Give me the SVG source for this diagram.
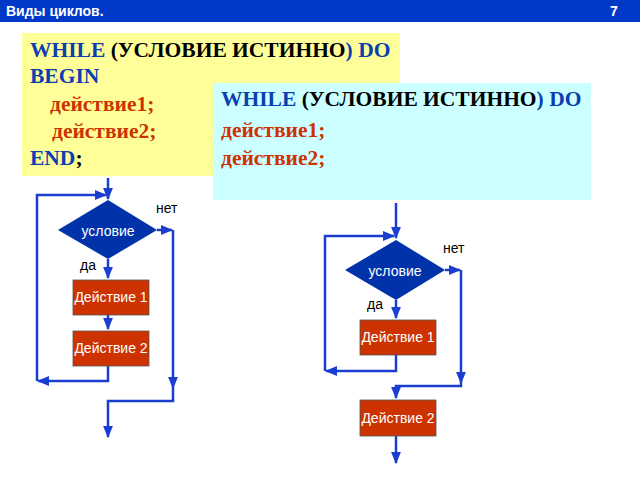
<svg xmlns="http://www.w3.org/2000/svg" width="640" height="480" viewBox="0 0 640 480">
<defs>
<marker id="a" viewBox="0 0 10 10" refX="9" refY="5" markerWidth="5" markerHeight="5" orient="auto"><path d="M0,1 L10,5 L0,9 z" fill="#1a3fd0"/></marker>
<style>
.t{font-family:"Liberation Serif","Times New Roman",serif;font-weight:bold;font-size:21.5px}
.b{fill:#0a3fb0}.k{fill:#000}.r{fill:#cc3300}
.s{font-family:"Liberation Sans",Arial,sans-serif;font-size:14px}
.c{fill:none;stroke:#1a3fd0;stroke-width:2.5}
.d{fill:#0033aa}.x{fill:#cc3300;stroke:#555;stroke-width:0.8}
</style>
</defs>
<rect width="640" height="480" fill="#fff"/>
<rect width="640" height="22" fill="#0038c8"/>
<text x="6" y="16" font-family="Liberation Sans,sans-serif" font-weight="bold" font-size="14" fill="#fff">Виды циклов.</text>
<text x="610" y="16" font-family="Liberation Sans,sans-serif" font-weight="bold" font-size="14" fill="#fff">7</text>
<g id="code1">
<rect x="22" y="33" width="378" height="143" fill="#ffff99"/>
<text class="t" x="30" y="57"><tspan class="b">WHILE </tspan><tspan class="k">(УСЛОВИЕ ИСТИННО</tspan><tspan class="b">) DO</tspan></text>
<text class="t b" x="30" y="83">BEGIN</text>
<text class="t r" x="50" y="111">действие1;</text>
<text class="t r" x="52" y="138">действие2;</text>
<text class="t" x="30" y="165"><tspan class="b">END</tspan><tspan class="k">;</tspan></text>
</g>
<g id="code2">
<rect x="213" y="83" width="378" height="117" fill="#ccffff"/>
<text class="t" x="221" y="106"><tspan class="b">WHILE </tspan><tspan class="k">(УСЛОВИЕ ИСТИННО</tspan><tspan class="b">) DO</tspan></text>
<text class="t r" x="221" y="137">действие1;</text>
<text class="t r" x="221" y="165">действие2;</text>
</g>
<g id="connectors">
<path class="c" d="M108,178 V199" marker-end="url(#a)"/>
<path class="c" d="M108,259 V278" marker-end="url(#a)"/>
<path class="c" d="M108,315 V329" marker-end="url(#a)"/>
<path class="c" d="M108,366 V381 H38" marker-end="url(#a)"/>
<path class="c" d="M37,381 V195 H106" marker-end="url(#a)"/>
<path class="c" d="M157,230 H172" marker-end="url(#a)"/>
<path class="c" d="M173,230 V388" marker-end="url(#a)"/>
<path class="c" d="M173,388 V401 H108 V437" marker-end="url(#a)"/>
<path class="c" d="M396,203 V238" marker-end="url(#a)"/>
<path class="c" d="M396,300 V318" marker-end="url(#a)"/>
<path class="c" d="M396,355 V371 H326" marker-end="url(#a)"/>
<path class="c" d="M325,371 V236 H394" marker-end="url(#a)"/>
<path class="c" d="M445,270 H460" marker-end="url(#a)"/>
<path class="c" d="M461,270 V383" marker-end="url(#a)"/>
<path class="c" d="M461,383 V386 H396 V398" marker-end="url(#a)"/>
<path class="c" d="M396,436 V463" marker-end="url(#a)"/>
</g>
<g id="cond1"><path class="d" d="M58,230 L108,200 L157,230 L108,259 z"/><text class="s" x="108" y="236" text-anchor="middle" fill="#fff">условие</text></g>
<text class="s" x="156" y="213">нет</text>
<text class="s" x="80" y="270">да</text>
<g id="act1a"><rect class="x" x="73" y="280" width="76" height="35"/><text class="s" x="111" y="302" text-anchor="middle" fill="#fff" font-size="13">Действие 1</text></g>
<g id="act2a"><rect class="x" x="73" y="331" width="76" height="35"/><text class="s" x="111" y="353" text-anchor="middle" fill="#fff" font-size="13">Действие 2</text></g>
<g id="cond2"><path class="d" d="M345,270 L396,240 L445,270 L396,300 z"/><text class="s" x="395" y="276" text-anchor="middle" fill="#fff">условие</text></g>
<text class="s" x="443" y="253">нет</text>
<text class="s" x="367" y="309">да</text>
<g id="act1b"><rect class="x" x="360" y="320" width="76" height="35"/><text class="s" x="398" y="342" text-anchor="middle" fill="#fff" font-size="13">Действие 1</text></g>
<g id="act2b"><rect class="x" x="360" y="400" width="76" height="36"/><text class="s" x="398" y="423" text-anchor="middle" fill="#fff" font-size="13">Действие 2</text></g>
</svg>
